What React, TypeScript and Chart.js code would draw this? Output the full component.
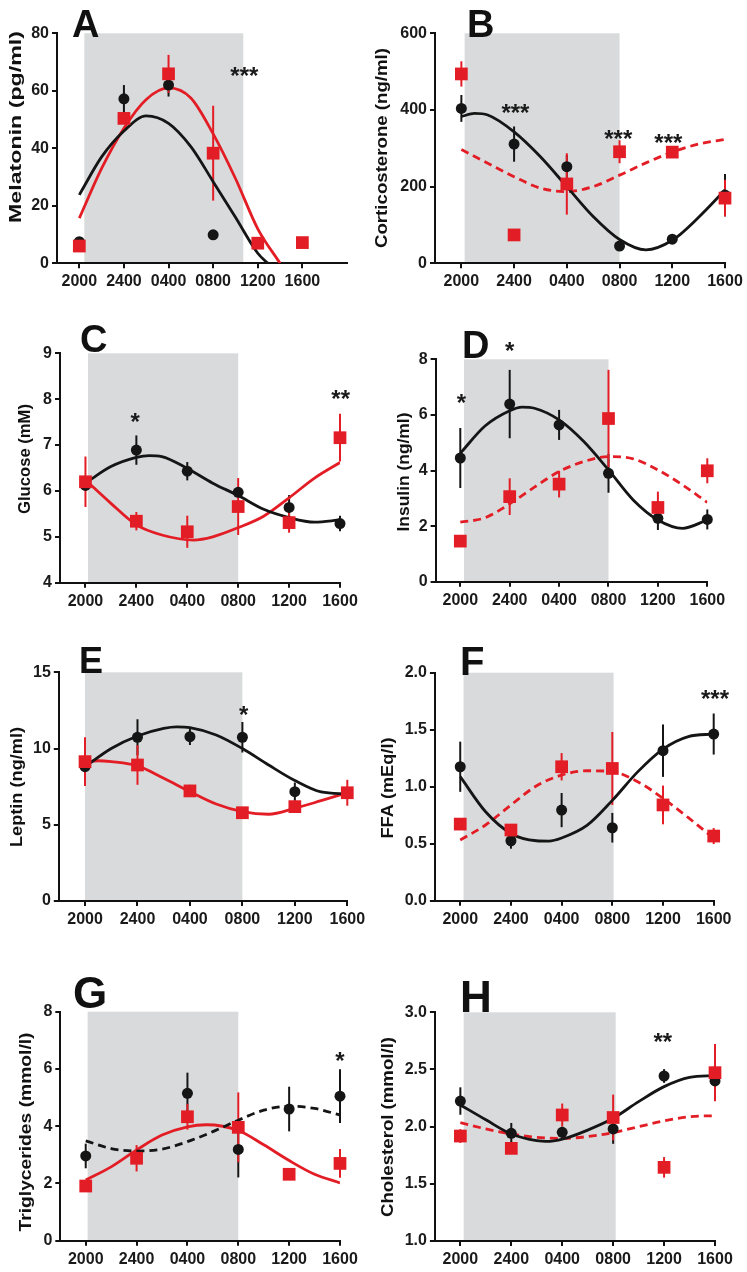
import React, { useEffect, useRef } from "react";
import { Chart, registerables } from "chart.js";

Chart.register(...registerables);

// ---------- shared categories ----------
const timeLabels = ["2000", "2400", "0400", "0800", "1200", "1600"];
const sampleHours = [0, 4, 8, 12, 16, 20];

// ---------- A: Melatonin ----------
const melCtrl = [7.5, 57.2, 62, 9.9, null, null];
const melCtrlErr = [0, 4.8, 4, 0, 0, 0];
const melTreat = [6, 50.4, 65.9, 38.3, 7, 7.2];
const melTreatErr = [0, 0, 6.6, 16.5, 0, 0];
const melCtrlFitH = [0, 2, 4, 6, 8, 10, 12, 14, 16, 16.9];
const melCtrlFit = [23.8, 37, 46, 51.3, 48.7, 40.6, 28.4, 16, 3.5, 0];
const melTreatFitH = [0, 2, 4, 6, 8, 10, 12, 14, 16, 18];
const melTreatFit = [15.7, 33, 47, 57, 61, 57.5, 45, 29.5, 12, 0];

// ---------- B: Corticosterone ----------
const corCtrl = [404, 311, 252, 45, 63, 178];
const corCtrlErr = [35, 46, 30, 6, 8, 55];
const corTreat = [494, 74, 207, 291, 290, 170];
const corTreatErr = [33, 0, 80, 30, 12, 48];
const corCtrlFitH = [0, 1, 2, 4, 6, 8, 10, 12, 14, 16, 18, 20];
const corCtrlFit = [383, 391, 387, 343, 278, 200, 122, 62, 35, 60, 120, 191];
const corTreatFitH = [0, 2, 4, 6, 8, 10, 12, 14, 16, 18, 20];
const corTreatFit = [297, 261, 226, 196, 187, 200, 230, 262, 290, 311, 323];

// ---------- C: Glucose ----------
const gluCtrl = [6.12, 6.89, 6.43, 5.97, 5.64, 5.29];
const gluCtrlErr = [0.1, 0.32, 0.2, 0.08, 0.27, 0.17];
const gluTreat = [6.2, 5.34, 5.11, 5.66, 5.31, 7.16];
const gluTreatErr = [0.55, 0.2, 0.35, 0.62, 0.22, 0.52];
const gluCtrlFitH = [0, 2, 4, 5, 6, 8, 10, 12, 14, 16, 18, 20];
const gluCtrlFit = [6.17, 6.53, 6.73, 6.77, 6.75, 6.49, 6.17, 5.9, 5.6, 5.42, 5.32, 5.37];
const gluTreatFitH = [0, 2, 4, 6, 8.5, 10, 12, 14, 16, 18, 20];
const gluTreatFit = [6.24, 5.73, 5.26, 5.04, 4.93, 5.0, 5.2, 5.45, 5.85, 6.28, 6.62];

// ---------- D: Insulin ----------
const insCtrl = [4.45, 6.39, 5.64, 3.9, 2.28, 2.24];
const insCtrlErr = [1.08, 1.23, 0.54, 0.7, 0.42, 0.36];
const insTreat = [1.46, 3.06, 3.51, 5.87, 2.67, 3.99];
const insTreatErr = [0.2, 0.66, 0.48, 1.75, 0.57, 0.45];
const insCtrlFitH = [0, 2, 4, 5, 6, 8, 10, 12, 14, 16, 18, 20];
const insCtrlFit = [4.62, 5.6, 6.15, 6.28, 6.24, 5.82, 5.04, 4.02, 2.94, 2.22, 1.92, 2.22];
const insTreatFitH = [0, 2, 4, 6, 8, 10, 12, 14, 16, 18, 20];
const insTreatFit = [2.14, 2.3, 2.8, 3.4, 3.96, 4.32, 4.5, 4.42, 4.02, 3.48, 2.85];

// ---------- E: Leptin ----------
const lepCtrl = [8.81, 10.74, 10.78, 10.74, 7.17, 7.06];
const lepCtrlErr = [0.3, 1.18, 0.55, 1.0, 0.6, 0.3];
const lepTreat = [9.14, 8.92, 7.22, 5.79, 6.19, 7.1];
const lepTreatErr = [1.6, 1.3, 0.4, 0.2, 0.25, 0.85];
const lepCtrlFitH = [0, 2, 4, 6, 7, 8, 10, 12, 14, 16, 18, 20];
const lepCtrlFit = [8.81, 10.0, 10.82, 11.32, 11.42, 11.37, 10.89, 10.0, 8.92, 7.9, 7.15, 7.02];
const lepTreatFitH = [0, 1, 2, 4, 6, 8, 10, 12, 14, 16, 18, 20];
const lepTreatFit = [9.14, 9.2, 9.14, 8.86, 8.05, 7.17, 6.36, 5.86, 5.69, 6.08, 6.58, 7.1];

// ---------- F: FFA ----------
const ffaCtrl = [1.175, 0.526, 0.795, 0.64, 1.316, 1.462];
const ffaCtrlErr = [0.22, 0.07, 0.15, 0.13, 0.23, 0.18];
const ffaTreat = [0.672, 0.62, 1.175, 1.16, 0.84, 0.567];
const ffaTreatErr = [0, 0.03, 0.12, 0.32, 0.17, 0.07];
const ffaCtrlFitH = [0, 2, 4, 6, 7, 8, 10, 12, 14, 16, 18, 20];
const ffaCtrlFit = [1.088, 0.78, 0.59, 0.526, 0.523, 0.55, 0.66, 0.88, 1.13, 1.33, 1.44, 1.462];
const ffaTreatFitH = [0, 2, 4, 6, 8, 10, 12, 14, 16, 18, 20];
const ffaTreatFit = [0.532, 0.664, 0.84, 1.006, 1.102, 1.14, 1.132, 1.044, 0.898, 0.728, 0.547];

// ---------- G: Triglycerides ----------
const triCtrl = [2.96, null, 5.15, 3.19, 4.6, 5.05];
const triCtrlErr = [0.43, 0, 0.72, 0.98, 0.78, 0.94];
const triTreat = [1.91, 2.88, 4.33, 3.96, 2.32, 2.7];
const triTreatErr = [0.2, 0.46, 0.45, 1.22, 0.12, 0.5];
const triCtrlFitH = [0, 2, 4, 6, 8, 10, 12, 14, 16, 18, 20];
const triCtrlFit = [3.49, 3.22, 3.13, 3.2, 3.46, 3.81, 4.21, 4.56, 4.7, 4.62, 4.39];
const triTreatFitH = [0, 2, 4, 6, 8, 9.5, 12, 14, 16, 18, 20];
const triTreatFit = [2.12, 2.58, 3.17, 3.69, 3.98, 4.05, 3.85, 3.35, 2.8, 2.32, 2.02];

// ---------- H: Cholesterol ----------
const choCtrl = [2.224, 1.942, 1.95, 1.98, 2.443, 2.4];
const choCtrlErr = [0.12, 0.09, 0.05, 0.13, 0.06, 0.05];
const choTreat = [1.918, 1.81, 2.102, 2.08, 1.644, 2.472];
const choTreatErr = [0.06, 0.05, 0.1, 0.2, 0.09, 0.25];
const choCtrlFitH = [0, 2, 4, 6, 7, 8, 10, 12, 14, 16, 18, 20];
const choCtrlFit = [2.19, 2.06, 1.936, 1.878, 1.872, 1.89, 1.97, 2.073, 2.219, 2.35, 2.431, 2.446];
const choTreatFitH = [0, 2, 4, 6, 8, 10, 12, 14, 16, 18, 20];
const choTreatFit = [2.035, 1.98, 1.936, 1.907, 1.898, 1.913, 1.948, 2.0, 2.05, 2.087, 2.096];

// ---------- significance marks (hour, value, text) ----------
const starsA = [{ h: 14.8, v: 67, t: "***" }];
const starsB = [
  { h: 4.1, v: 407, t: "***" },
  { h: 11.9, v: 339, t: "***" },
  { h: 15.7, v: 329, t: "***" },
];
const starsC = [
  { h: 3.9, v: 7.63, t: "*" },
  { h: 20.05, v: 8.13, t: "**" },
];
const starsD = [
  { h: 0.1, v: 6.63, t: "*" },
  { h: 4.0, v: 8.48, t: "*" },
];
const starsE = [{ h: 12.1, v: 12.53, t: "*" }];
const starsF = [{ h: 20.1, v: 1.82, t: "***" }];
const starsG = [{ h: 20.0, v: 6.48, t: "*" }];
const starsH = [{ h: 15.9, v: 2.79, t: "**" }];

// ---------- styling ----------
const FONT = '"Liberation Sans", Arial, Helvetica, sans-serif';
const RED = "#e31d25";
const BLACK = "#151515";
const GRAY = "#d9dadb";

const panels: any[] = [
  {
    letter: "A", title: "Melatonin (pg/ml)",
    ctrl: melCtrl, ctrlErr: melCtrlErr, treat: melTreat, treatErr: melTreatErr,
    ctrlFitH: melCtrlFitH, ctrlFit: melCtrlFit, ctrlDash: false,
    treatFitH: melTreatFitH, treatFit: melTreatFit, treatDash: false,
    yMin: 0, yMax: 80, yStep: 20, yDec: 0, xMax: 24, band: [0.45, 14.7], stars: starsA,
    canvas: { left: 0, top: 0, width: 373, height: 310 },
    plot: { left: 57, right: 347, top: 33.3, bottom: 263.3 },
    letterPos: { x: 72, y: 37, size: 38 }, titlePos: { x: 16, y: 127, len: 192 },
  },
  {
    letter: "B", title: "Corticosterone (ng/ml)",
    ctrl: corCtrl, ctrlErr: corCtrlErr, treat: corTreat, treatErr: corTreatErr,
    ctrlFitH: corCtrlFitH, ctrlFit: corCtrlFit, ctrlDash: false,
    treatFitH: corTreatFitH, treatFit: corTreatFit, treatDash: true,
    yMin: 0, yMax: 600, yStep: 200, yDec: 0, xMax: 20, band: [0.25, 12], stars: starsB,
    canvas: { left: 373, top: 0, width: 374, height: 310 },
    plot: { left: 435, right: 725, top: 33.3, bottom: 263.3 },
    letterPos: { x: 467, y: 37, size: 38 }, titlePos: { x: 382, y: 148, len: 200 },
  },
  {
    letter: "C", title: "Glucose (mM)",
    ctrl: gluCtrl, ctrlErr: gluCtrlErr, treat: gluTreat, treatErr: gluTreatErr,
    ctrlFitH: gluCtrlFitH, ctrlFit: gluCtrlFit, ctrlDash: false,
    treatFitH: gluTreatFitH, treatFit: gluTreatFit, treatDash: false,
    yMin: 4, yMax: 9, yStep: 1, yDec: 0, xMax: 20, band: [0.2, 12], stars: starsC,
    canvas: { left: 0, top: 310, width: 373, height: 320 },
    plot: { left: 60, right: 340, top: 353.3, bottom: 582.7 },
    letterPos: { x: 80, y: 352, size: 38 }, titlePos: { x: 25, y: 459, len: 110 },
  },
  {
    letter: "D", title: "Insulin (ng/ml)",
    ctrl: insCtrl, ctrlErr: insCtrlErr, treat: insTreat, treatErr: insTreatErr,
    ctrlFitH: insCtrlFitH, ctrlFit: insCtrlFit, ctrlDash: false,
    treatFitH: insTreatFitH, treatFit: insTreatFit, treatDash: true,
    yMin: 0, yMax: 8, yStep: 2, yDec: 0, xMax: 20, band: [0.3, 12], stars: starsD,
    canvas: { left: 373, top: 310, width: 374, height: 320 },
    plot: { left: 435.6, right: 707.3, top: 359.3, bottom: 581.7 },
    letterPos: { x: 462, y: 358, size: 38 }, titlePos: { x: 404, y: 472, len: 119 },
  },
  {
    letter: "E", title: "Leptin (ng/ml)",
    ctrl: lepCtrl, ctrlErr: lepCtrlErr, treat: lepTreat, treatErr: lepTreatErr,
    ctrlFitH: lepCtrlFitH, ctrlFit: lepCtrlFit, ctrlDash: false,
    treatFitH: lepTreatFitH, treatFit: lepTreatFit, treatDash: false,
    yMin: 0, yMax: 15, yStep: 5, yDec: 0, xMax: 20, band: [0.0, 12], stars: starsE,
    canvas: { left: 0, top: 630, width: 373, height: 320 },
    plot: { left: 58.8, right: 347.3, top: 672.3, bottom: 901 },
    letterPos: { x: 79, y: 673, size: 36 }, titlePos: { x: 17, y: 787, len: 120 },
  },
  {
    letter: "F", title: "FFA (mEq/l)",
    ctrl: ffaCtrl, ctrlErr: ffaCtrlErr, treat: ffaTreat, treatErr: ffaTreatErr,
    ctrlFitH: ffaCtrlFitH, ctrlFit: ffaCtrlFit, ctrlDash: false,
    treatFitH: ffaTreatFitH, treatFit: ffaTreatFit, treatDash: true,
    yMin: 0, yMax: 2, yStep: 0.5, yDec: 1, xMax: 20, band: [0.26, 12.1], stars: starsF,
    canvas: { left: 373, top: 630, width: 374, height: 320 },
    plot: { left: 434.9, right: 713.7, top: 672.7, bottom: 900.7 },
    letterPos: { x: 460, y: 675, size: 40 }, titlePos: { x: 388, y: 788, len: 101 },
  },
  {
    letter: "G", title: "Triglycerides (mmol/l)",
    ctrl: triCtrl, ctrlErr: triCtrlErr, treat: triTreat, treatErr: triTreatErr,
    ctrlFitH: triCtrlFitH, ctrlFit: triCtrlFit, ctrlDash: true,
    treatFitH: triTreatFitH, treatFit: triTreatFit, treatDash: false,
    yMin: 0, yMax: 8, yStep: 2, yDec: 0, xMax: 20, band: [0.15, 12], stars: starsG,
    canvas: { left: 0, top: 950, width: 373, height: 322 },
    plot: { left: 60.3, right: 340, top: 1011.7, bottom: 1240.7 },
    letterPos: { x: 73, y: 1008, size: 44 }, titlePos: { x: 26, y: 1132, len: 199 },
  },
  {
    letter: "H", title: "Cholesterol (mmol/l)",
    ctrl: choCtrl, ctrlErr: choCtrlErr, treat: choTreat, treatErr: choTreatErr,
    ctrlFitH: choCtrlFitH, ctrlFit: choCtrlFit, ctrlDash: false,
    treatFitH: choTreatFitH, treatFit: choTreatFit, treatDash: true,
    yMin: 1, yMax: 3, yStep: 0.5, yDec: 1, xMax: 20, band: [0.26, 12.2], stars: starsH,
    canvas: { left: 373, top: 950, width: 374, height: 322 },
    plot: { left: 434.9, right: 715, top: 1012.3, bottom: 1241 },
    letterPos: { x: 460, y: 1012, size: 44 }, titlePos: { x: 388, y: 1127, len: 180 },
  },
];

function makeDecor(cfg: any) {
  const c = cfg.canvas;
  return {
    id: "decor" + cfg.letter,
    beforeDraw(chart: any) {
      const { ctx, scales } = chart;
      const x = scales.x, y = scales.y;
      const xl = x.getPixelForValue(cfg.band[0]);
      const xr = x.getPixelForValue(cfg.band[1]);
      const yt = y.getPixelForValue(cfg.yMax);
      const yb = y.getPixelForValue(cfg.yMin);
      ctx.save();
      ctx.fillStyle = GRAY;
      ctx.fillRect(xl, yt, xr - xl, yb - yt);
      ctx.restore();
    },
    beforeDatasetsDraw(chart: any) {
      const { ctx, scales } = chart;
      const x = scales.x, y = scales.y;
      ctx.save();
      ctx.lineWidth = 2;
      ctx.lineCap = "butt";
      chart.data.datasets.forEach((ds: any) => {
        if (!ds.errors) return;
        ctx.strokeStyle = ds.pointBackgroundColor;
        ds.data.forEach((p: any, i: number) => {
          const e = ds.errors[i];
          if (p.y == null || !e) return;
          const px = x.getPixelForValue(p.x);
          ctx.beginPath();
          ctx.moveTo(px, y.getPixelForValue(p.y + e));
          ctx.lineTo(px, y.getPixelForValue(p.y - e));
          ctx.stroke();
        });
      });
      ctx.restore();
    },
    afterDraw(chart: any) {
      const { ctx, scales } = chart;
      const x = scales.x, y = scales.y;
      ctx.save();
      // significance marks
      ctx.fillStyle = "#1a1a1a";
      ctx.font = `bold 24px ${FONT}`;
      ctx.textAlign = "center";
      ctx.textBaseline = "alphabetic";
      cfg.stars.forEach((s: any) => {
        ctx.fillText(s.t, x.getPixelForValue(s.h), y.getPixelForValue(s.v) + 13.5);
      });
      // panel letter
      ctx.font = `bold ${cfg.letterPos.size}px ${FONT}`;
      ctx.textAlign = "left";
      ctx.fillStyle = "#111";
      ctx.fillText(cfg.letter, cfg.letterPos.x - c.left, cfg.letterPos.y - c.top);
      // y-axis title, rotated
      ctx.font = `bold 17px ${FONT}`;
      const w = ctx.measureText(cfg.title).width;
      ctx.translate(cfg.titlePos.x - c.left, cfg.titlePos.y - c.top);
      ctx.rotate(-Math.PI / 2);
      ctx.scale(cfg.titlePos.len / w, 1);
      ctx.textAlign = "center";
      ctx.textBaseline = "middle";
      ctx.fillText(cfg.title, 0, 0);
      ctx.restore();
    },
  };
}

function PanelChart({ cfg }: { cfg: any }) {
  const ref = useRef<HTMLCanvasElement | null>(null);
  useEffect(() => {
    const canvas = ref.current;
    if (!canvas) return;
    const c = cfg.canvas;
    const p = cfg.plot;
    const yBox = p.left - c.left;
    const xBox = c.top + c.height - p.bottom;
    const tickFont = { family: FONT, size: 16, weight: "bold" as const };
    const pts = (hs: number[], vs: any[]) => hs.map((h, i) => ({ x: h, y: vs[i] }));
    const fitLine = (hs: number[], vs: number[], color: string, dash: boolean) => ({
      type: "line",
      data: pts(hs, vs),
      borderColor: color,
      borderWidth: 2.8,
      borderDash: dash ? [8, 5] : [],
      pointRadius: 0,
      cubicInterpolationMode: "monotone",
      fill: false,
      order: 3,
    });
    const marks = (vs: any[], errs: number[], color: string, style: string, r: number, order: number) => ({
      type: "line",
      data: pts(sampleHours, vs),
      errors: errs,
      showLine: false,
      pointStyle: style,
      pointRadius: r,
      pointBackgroundColor: color,
      pointBorderWidth: 0,
      borderColor: color,
      clip: false,
      order,
    });
    const axisCommon = {
      grid: { drawOnChartArea: false, drawTicks: true, tickLength: 5, color: "#111", lineWidth: 2 },
      border: { display: true, color: "#111", width: 2 },
    };
    const chart = new Chart(canvas, {
      type: "line",
      data: {
        datasets: [
          fitLine(cfg.ctrlFitH, cfg.ctrlFit, BLACK, cfg.ctrlDash),
          fitLine(cfg.treatFitH, cfg.treatFit, RED, cfg.treatDash),
          marks(cfg.ctrl, cfg.ctrlErr, BLACK, "circle", 5.5, 2),
          marks(cfg.treat, cfg.treatErr, RED, "rect", 9, 1),
        ] as any,
      },
      options: {
        animation: false,
        responsive: false,
        events: [],
        layout: {
          padding: {
            left: 0,
            right: c.left + c.width - p.right,
            top: p.top - c.top,
            bottom: 0,
          },
        },
        plugins: { legend: { display: false }, tooltip: { enabled: false } },
        scales: {
          x: {
            type: "linear",
            min: -2,
            max: cfg.xMax,
            afterBuildTicks: (s: any) => {
              s.ticks = sampleHours.map((v) => ({ value: v }));
            },
            afterFit: (s: any) => {
              s.height = xBox;
              s.paddingLeft = 0; s.paddingRight = 0; s.paddingTop = 0; s.paddingBottom = 0;
            },
            ticks: {
              autoSkip: false,
              maxRotation: 0,
              padding: 4,
              color: "#1a1a1a",
              font: tickFont,
              callback: (v: any) => {
                const i = sampleHours.indexOf(Number(v));
                return i >= 0 ? timeLabels[i] : "";
              },
            },
            ...axisCommon,
          },
          y: {
            type: "linear",
            min: cfg.yMin,
            max: cfg.yMax,
            afterFit: (s: any) => {
              s.width = yBox;
              s.paddingLeft = 0; s.paddingRight = 0; s.paddingTop = 0; s.paddingBottom = 0;
            },
            ticks: {
              stepSize: cfg.yStep,
              padding: 3,
              color: "#1a1a1a",
              font: tickFont,
              callback: (v: any) => Number(v).toFixed(cfg.yDec),
            },
            ...axisCommon,
          },
        },
      } as any,
      plugins: [makeDecor(cfg)],
    });
    return () => chart.destroy();
  }, [cfg]);
  const c = cfg.canvas;
  return (
    <canvas
      ref={ref}
      width={c.width}
      height={c.height}
      style={{ position: "absolute", left: c.left, top: c.top, width: c.width, height: c.height }}
    />
  );
}

export default function App() {
  return (
    <div style={{ position: "absolute", left: 0, top: 0, width: 747, height: 1272, background: "#fff", overflow: "hidden" }}>
      {panels.map((cfg) => (
        <PanelChart key={cfg.letter} cfg={cfg} />
      ))}
    </div>
  );
}
